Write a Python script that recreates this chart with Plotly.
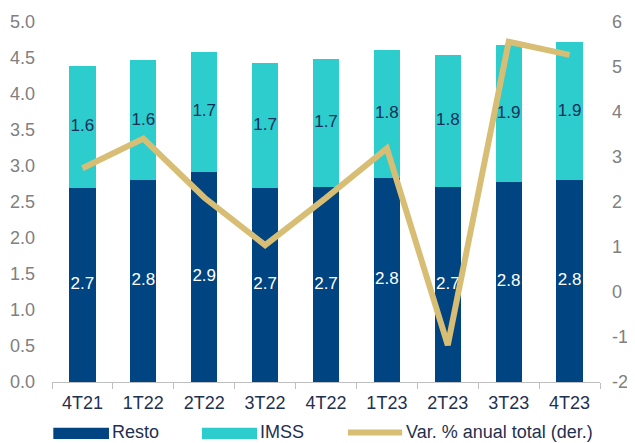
import plotly.graph_objects as go

categories = ["4T21", "1T22", "2T22", "3T22", "4T22", "1T23", "2T23", "3T23", "4T23"]
resto = [2.70, 2.80, 2.92, 2.69, 2.71, 2.84, 2.71, 2.78, 2.80]
imss = [1.69, 1.67, 1.67, 1.74, 1.78, 1.77, 1.83, 1.90, 1.92]
resto_labels = ["2.7", "2.8", "2.9", "2.7", "2.7", "2.8", "2.7", "2.8", "2.8"]
imss_labels = ["1.6", "1.6", "1.7", "1.7", "1.7", "1.8", "1.8", "1.9", "1.9"]
var_anual = [2.75, 3.41, 2.10, 1.04, 2.09, 3.19, -1.18, 5.56, 5.27]

left_ticks = [0, 0.5, 1, 1.5, 2, 2.5, 3, 3.5, 4, 4.5, 5]
left_ticktext = ["0.0", "0.5", "1.0", "1.5", "2.0", "2.5", "3.0", "3.5", "4.0", "4.5", "5.0"]
right_ticks = [-2, -1, 0, 1, 2, 3, 4, 5, 6]
right_ticktext = ["-2", "-1", "0", "1", "2", "3", "4", "5", "6"]
series_names = ["Resto", "IMSS", "Var. % anual total (der.)"]

NAVY = "#004481"
AQUA = "#2DCCCD"
SAND = "#D8BE75"
TXT = "#1f3050"
FONT = "Arial, Liberation Sans, sans-serif"

resto_mid = [r / 2 for r in resto]
imss_mid = [r + i / 2 for r, i in zip(resto, imss)]

fig = go.Figure()
fig.add_trace(go.Bar(
    x=categories, y=resto, name=series_names[0], marker=dict(color=NAVY, line=dict(width=0)),
))
fig.add_trace(go.Bar(
    x=categories, y=imss, name=series_names[1], marker=dict(color=AQUA, line=dict(width=0)),
))
fig.add_trace(go.Scatter(
    x=categories, y=resto_mid, text=resto_labels, mode="text", showlegend=False,
    textfont=dict(color="white", size=17, family=FONT), hoverinfo="skip",
))
fig.add_trace(go.Scatter(
    x=categories, y=imss_mid, text=imss_labels, mode="text", showlegend=False,
    textfont=dict(color="#14305a", size=17, family=FONT), hoverinfo="skip",
))
fig.add_trace(go.Scatter(
    x=categories, y=var_anual, name=series_names[2], yaxis="y2",
    mode="lines", line=dict(color=SAND, width=6),
))

# Legend drawn below the plot (wide swatches like the original)
ly0, ly1, lyc = -0.158, -0.127, -0.1405
fig.add_shape(type="rect", xref="paper", yref="paper", x0=0.0024, x1=0.104, y0=ly0, y1=ly1,
              fillcolor=NAVY, line=dict(width=0))
fig.add_shape(type="rect", xref="paper", yref="paper", x0=0.2737, x1=0.3741, y0=ly0, y1=ly1,
              fillcolor=AQUA, line=dict(width=0))
fig.add_shape(type="line", xref="paper", yref="paper", x0=0.540, x1=0.639, y0=lyc, y1=lyc,
              line=dict(color=SAND, width=6))
for xpos, label in zip([0.106, 0.375, 0.643], series_names):
    fig.add_annotation(x=xpos, y=-0.139, xref="paper", yref="paper", text=label,
                       showarrow=False, xanchor="left", yanchor="middle",
                       font=dict(size=18, color=TXT, family=FONT))

fig.update_layout(
    width=627, height=435,
    margin=dict(l=44, r=35, t=14, b=61, autoexpand=False),
    barmode="stack", bargap=0.57,
    plot_bgcolor="white", paper_bgcolor="white",
    font=dict(family=FONT, size=18, color=TXT),
    showlegend=False,
    xaxis=dict(
        type="category", showgrid=False, showline=True, linecolor="#bfbfbf", linewidth=1,
        ticks="outside", tickson="boundaries", ticklen=6, tickcolor="#bfbfbf",
        tickfont=dict(size=18, color=TXT, family=FONT), zeroline=False,
        automargin=False, ticklabelstandoff=4,
    ),
    yaxis=dict(
        range=[0, 5], tickvals=left_ticks, ticktext=left_ticktext, showgrid=False,
        zeroline=False, showline=False, ticks="", ticklabelstandoff=16,
        tickfont=dict(size=18, color="#808080", family=FONT), automargin=False,
    ),
    yaxis2=dict(
        range=[-2, 6], tickvals=right_ticks, ticktext=right_ticktext, overlaying="y",
        side="right", showgrid=False, zeroline=False, showline=False, ticks="",
        ticklabelstandoff=11, tickfont=dict(size=18, color="#808080", family=FONT),
        automargin=False,
    ),
)

fig.write_html("out.html")
